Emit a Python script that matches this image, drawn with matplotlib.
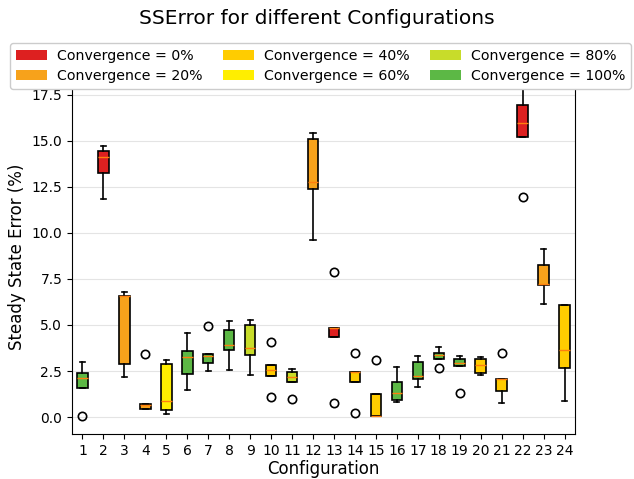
import numpy as np
import matplotlib.pyplot as plt
from matplotlib.patches import Patch

# one entry per configuration 1..24
configs = list(range(1, 25))
convergence = [100, 0, 20, 20, 60, 100, 100, 100, 80, 40, 80, 20,
               0, 40, 40, 100, 100, 100, 100, 40, 40, 0, 20, 40]
whis_hi = [2.98, 14.74, 6.78, 0.72, 3.09, 4.54, 3.44, 5.21, 5.28, 2.80, 2.60, 15.41,
           4.83, 2.44, 1.25, 2.73, 3.33, 3.78, 3.33, 3.27, 2.06, 19.0, 9.11, 6.06]
q3 = [2.40, 14.47, 6.55, 0.72, 2.88, 3.56, 3.44, 4.74, 5.01, 2.80, 2.42, 15.10,
      4.83, 2.44, 1.25, 1.88, 2.98, 3.47, 3.15, 3.15, 2.06, 16.94, 8.23, 6.06]
med = [2.12, 14.14, 6.55, 0.67, 0.85, 3.27, 3.29, 3.91, 3.73, 2.57, 2.17, 12.78,
       4.83, 2.44, 0.07, 1.30, 2.24, 3.38, 2.93, 2.82, 2.06, 15.95, 7.21, 3.62]
q1 = [1.56, 13.24, 2.88, 0.45, 0.40, 2.33, 2.91, 3.63, 3.36, 2.22, 1.90, 12.39,
      4.32, 1.88, 0.07, 0.90, 2.08, 3.15, 2.75, 2.39, 1.39, 15.23, 7.16, 2.68]
whis_lo = [1.56, 11.84, 2.17, 0.45, 0.14, 1.46, 2.48, 2.55, 2.28, 2.22, 1.90, 9.62,
           4.32, 1.88, 0.07, 0.80, 1.65, 3.15, 2.75, 2.28, 0.74, 15.23, 6.13, 0.85]
outliers = [[0.07], [], [], [3.42], [], [], [4.97], [], [], [4.10, 1.07], [0.98], [],
            [7.88, 0.76], [3.47, 0.22], [3.11], [], [], [2.66], [1.30], [], [3.47], [11.95], [], []]

levels = [0, 20, 40, 60, 80, 100]
level_colors = {0: '#dd2020', 20: '#f7a21b', 40: '#ffcc00', 60: '#ffee00',
                80: '#c8dc2a', 100: '#5cb845'}

stats = []
for i in range(len(configs)):
    stats.append(dict(med=med[i], q1=q1[i], q3=q3[i], whislo=whis_lo[i],
                      whishi=whis_hi[i], fliers=outliers[i]))

fig = plt.figure(figsize=(6.34, 4.79), dpi=100)
ax = fig.add_axes([72 / 634, 1 - 434 / 479, 503 / 634, 354 / 479])

bp = ax.bxp(stats, positions=configs, patch_artist=True,
            boxprops=dict(linewidth=1.2),
            whiskerprops=dict(linewidth=1.2),
            capprops=dict(linewidth=1.2),
            medianprops=dict(color='#ff7f0e'),
            flierprops=dict(marker='o', markerfacecolor='none', markeredgecolor='black',
                            markeredgewidth=1.2))
for box, c in zip(bp['boxes'], convergence):
    box.set_facecolor(level_colors[c])

ax.set_xlim(0.5, 24.5)
ax.set_ylim(-0.92, 18.3)
ax.set_yticks(np.arange(0, 17.6, 2.5))
ax.yaxis.grid(True, color='#e4e4e4', linewidth=0.8)
ax.set_axisbelow(True)
ax.tick_params(labelsize=10)
ax.set_xlabel('Configuration', fontsize=12, labelpad=2)
ax.set_ylabel('Steady State Error (%)', fontsize=12)

fig.text(0.5, 1 - 18 / 479, 'SSError for different Configurations', fontsize=14.5,
         ha='center', va='center')

handles = [Patch(facecolor=level_colors[l], label='Convergence = %d%%' % l) for l in levels]
fig.legend(handles=handles, ncol=3, loc='lower left', mode='expand',
           bbox_to_anchor=(10 / 634, 1 - 89 / 479, 621 / 634, 47 / 479),
           fontsize=10.2, handlelength=2.2, handletextpad=0.7, labelspacing=0.45,
           framealpha=1, borderaxespad=0)

plt.savefig('out.png')
